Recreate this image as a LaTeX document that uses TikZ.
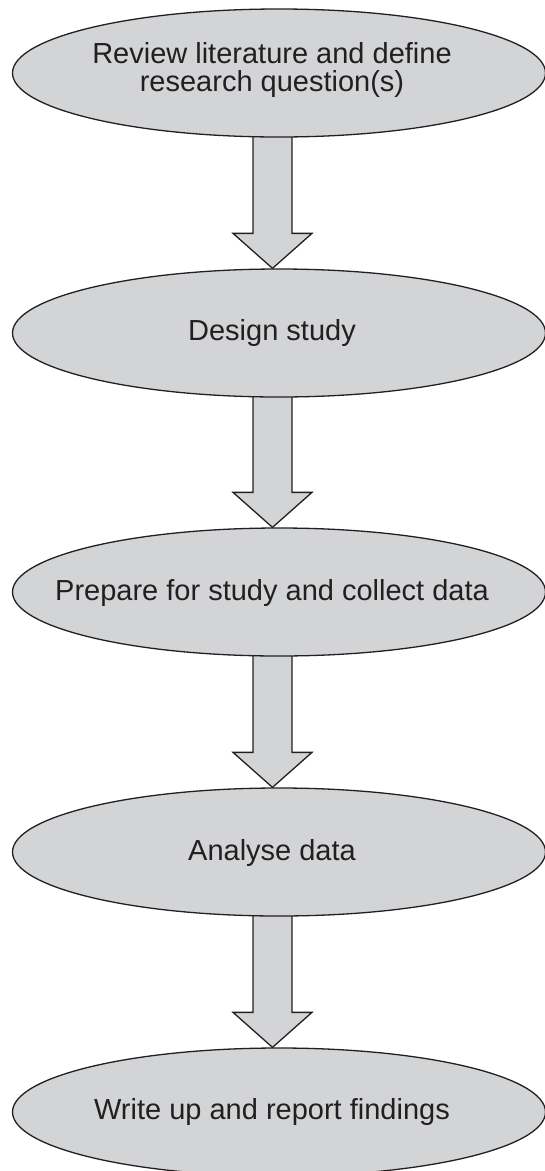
\documentclass[tikz,border=0pt]{standalone}
\usepackage{fontspec}
\setmainfont{Liberation Sans}
\usetikzlibrary{shapes.geometric,calc,backgrounds}
\definecolor{stagefill}{RGB}{211,212,214}
\definecolor{inkline}{RGB}{35,31,32}
\begin{document}
\begin{tikzpicture}[x=1pt,y=-1pt,
  stage/.style={ellipse, draw=inkline, fill=stagefill, line width=1.3pt,
    minimum width=533pt, minimum height=128pt, inner sep=0pt},
  stagetext/.style={font=\fontsize{29}{28.5}\selectfont, text=inkline, align=center, inner sep=0pt},
  flowarrow/.style={draw=inkline, fill=stagefill, line width=1.3pt, line join=miter}]
\useasboundingbox (0,0) rectangle (544,1171);

% the five stages
\node[stage] (e1) at (279,73) {};
\node[stage] (e2) at (279,333) {};
\node[stage] (e3) at (279,592) {};
\node[stage] (e4) at (279,852) {};
\node[stage] (e5) at (279,1112) {};

\node[stagetext] (t1) at (272,70) {Review literature and define\\research question(s)};
\node[stagetext] (t2) at (272,333) {Design study};
\node[stagetext] (t3) at (272,593) {Prepare for study and collect data};
\node[stagetext] (t4) at (272,853) {Analyse data};
\node[stagetext] (t5) at (272,1112) {Write up and report findings};

% block arrows between consecutive stages, tucked behind the ellipses
\begin{scope}[on background layer]
\foreach \a/\b in {e1/e2,e2/e3,e3/e4,e4/e5}
  \draw[flowarrow] let \p1=(\a.south), \p2=(\b.north) in
    (253pt,\y1+3pt) -- (253pt,\y2+35pt) -- (233pt,\y2+35pt) -- (272.5pt,\y2)
    -- (312pt,\y2+35pt) -- (292pt,\y2+35pt) -- (292pt,\y1+3pt);
\end{scope}
\end{tikzpicture}
\end{document}
